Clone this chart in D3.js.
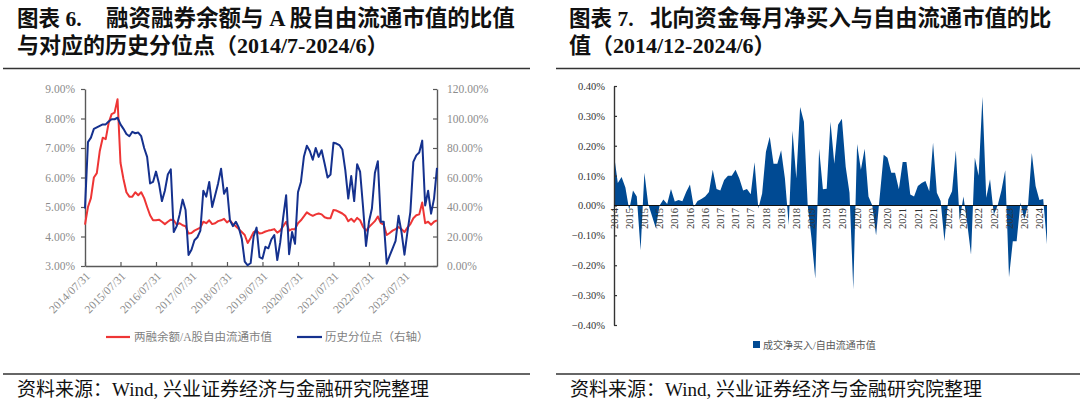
<!DOCTYPE html>
<html><head><meta charset="utf-8">
<script src="https://cdn.jsdelivr.net/npm/d3@7"></script>
<style>
html,body{margin:0;padding:0;background:#fff;}
svg{display:block;}
</style></head><body>
<svg id="c" width="1080" height="402"></svg>
<script>
// ---------- DATA ----------
// Chart 6: margin balance / A-share free float market cap (%), monthly 2014/07 - 2024/06
const marginRatio = [
4.40,5.00,5.30,6.00,6.15,6.90,7.35,7.30,7.85,8.15,8.20,8.65,
6.50,5.95,5.50,5.35,5.35,5.50,5.40,5.50,5.30,5.00,4.72,4.55,
4.55,4.57,4.50,4.42,4.50,4.57,4.55,4.40,4.45,4.38,4.35,4.10,
4.12,4.20,4.25,4.30,4.50,4.45,4.55,4.42,4.45,4.52,4.55,4.60,
4.48,4.55,4.42,4.35,4.25,4.15,4.05,3.78,3.95,4.15,4.20,4.10,
4.12,4.17,4.20,4.22,4.25,4.13,4.20,4.35,4.50,4.20,4.25,4.25,
4.45,4.55,4.68,4.82,4.75,4.70,4.75,4.78,4.75,4.65,4.62,4.62,
4.90,4.88,4.83,4.78,4.70,4.52,4.60,4.50,4.63,4.55,4.33,4.20,
4.32,4.42,4.52,4.68,4.45,4.40,4.05,4.12,4.20,4.25,4.32,4.25,
4.15,4.30,4.42,4.62,4.72,4.75,5.15,4.45,4.50,4.40,4.50,4.55];
// historical percentile (%), right axis
const percentile = [
39,84,87,93,94,95,96,96,98,99.5,99.5,100.5,
96,93,89.5,88,91,90,90.5,88,80,74,56,57,
64,56,44,51,62,65.5,23,27,35,45,38,7.5,
11,17.5,19.5,24,51,47,57,40,48,56,66,49,
53,31,27,30,26,18.5,3,0.5,2,20,26,6,
5,13,12,18,21,4,16,33,48,8,23,15,
50,57,74,81.5,78,72,80,74,78.5,69.5,60,62,
83.5,83,82,79,65,45.7,61,44,69,64,40,13.6,
30,39,63,71,30,30,1.6,7,12,17,34,23,
7.7,23,36.7,70.6,75,77,85,41,51,35.5,45.7,66.5];
const leftTickIdx = [0,12,24,36,48,60,72,84,96,108];
const leftTickLabels = ["2014/07/31","2015/07/31","2016/07/31","2017/07/31","2018/07/31",
  "2019/07/31","2020/07/31","2021/07/31","2022/07/31","2023/07/31"];
const leftYTicks = [3,4,5,6,7,8,9];
const rightYTicks = [0,20,40,60,80,100,120];

// Chart 7: northbound monthly net buy / free float market cap (%), 2014/12 - 2024/06
const northbound = [
0.17,0.075,0.095,0.06,-0.015,0.05,0.03,-0.15,0.11,0.005,-0.035,-0.075,
0.0,0.02,0.005,0.055,0.013,0.018,0.014,0.045,0.07,-0.005,0.015,0.022,
0.03,0.045,0.12,0.055,0.05,0.085,0.1,0.1,0.12,0.09,0.05,0.055,
0.038,0.145,-0.01,0.04,0.18,0.23,0.14,0.14,0.185,0.09,-0.065,0.25,
0.09,0.33,0.28,0.0,-0.11,-0.245,0.19,0.054,0.056,0.28,0.14,0.27,
0.29,0.13,0.043,-0.28,0.206,0.12,0.19,0.03,0.0,-0.1,0.035,0.17,
0.16,0.11,0.11,0.054,0.146,0.146,0.037,0.03,0.065,0.075,0.082,0.048,
0.21,0.043,0.015,-0.12,0.02,0.048,0.184,-0.05,0.03,-0.06,-0.165,0.16,
0.1,0.364,0.026,0.088,-0.03,0.0,0.05,0.118,-0.24,-0.12,-0.12,0.01,
-0.045,0.0,0.176,0.065,0.018,0.022,-0.13];
const northTickLabels = ["2014","2015","2015","2015","2016","2016","2016","2017","2017","2017",
  "2018","2018","2018","2019","2019","2019","2020","2020","2020","2021","2021","2021",
  "2022","2022","2022","2023","2023","2023","2024"];
const northYTicks = [-0.4,-0.3,-0.2,-0.1,0,0.1,0.2,0.3,0.4];

// ---------- DRAW ----------
const svg = d3.select("#c");
const serif = "'Liberation Serif','Times New Roman','Noto Sans CJK SC',serif";
const titleFont = "'Liberation Serif','Noto Sans CJK SC',sans-serif";
const pct2 = d => d3.format(".2f")(d) + "%";

// titles
function title(x, y, txt, size, weight) {
  svg.append("text").attr("x", x).attr("y", y).text(txt)
    .attr("font-family", titleFont).attr("font-size", size)
    .attr("font-weight", weight).attr("fill", "#111");
}
title(17, 26, "图表 6.", 21.5, "bold");
title(106, 26, "融资融券余额与 A 股自由流通市值的比值", 22.5, "bold");
title(17, 53, "与对应的历史分位点（2014/7-2024/6）", 22, "bold");
title(569, 26, "图表 7.", 21.5, "bold");
title(650, 26, "北向资金每月净买入与自由流通市值的比", 22.3, "bold");
title(569, 53, "值（2014/12-2024/6）", 22, "bold");

// separator lines
const rules = [[3,530,68.5],[556,1080,68.5],[3,530,374],[556,1080,374]];
rules.forEach(r => svg.append("line").attr("x1", r[0]).attr("x2", r[1])
  .attr("y1", r[2]).attr("y2", r[2]).attr("stroke", "#333").attr("stroke-width", 1.3));

// footers
title(17, 396, "资料来源：Wind, 兴业证券经济与金融研究院整理", 19, "normal");
title(570, 396, "资料来源：Wind, 兴业证券经济与金融研究院整理", 19, "normal");

// ---- Left chart ----
const xL = d3.scaleLinear().domain([0, marginRatio.length - 1]).range([85, 437]);
const yL = d3.scaleLinear().domain([3, 9]).range([266, 89]);
const yR = d3.scaleLinear().domain([0, 120]).range([266, 89]);
const axisCol = "#595959", labCol = "#8c8c8c";

function styleAxis(g, col, tcol, fs) {
  g.select(".domain").attr("stroke", col).attr("stroke-width", 1.4);
  g.selectAll(".tick line").attr("stroke", col).attr("stroke-width", 1.2);
  g.selectAll(".tick text").attr("fill", tcol).attr("font-family", serif).attr("font-size", fs);
}

const gLA = svg.append("g").attr("transform", "translate(85,0)")
  .call(d3.axisLeft(yL).tickValues(leftYTicks).tickFormat(pct2).tickSizeInner(4).tickSizeOuter(0).tickPadding(6));
styleAxis(gLA, axisCol, labCol, 11.5);
const gRA = svg.append("g").attr("transform", "translate(437,0)")
  .call(d3.axisRight(yR).tickValues(rightYTicks).tickFormat(pct2).tickSizeInner(-4).tickSizeOuter(0).tickPadding(10));
styleAxis(gRA, axisCol, labCol, 11.5);
const gBA = svg.append("g").attr("transform", "translate(0,266)")
  .call(d3.axisBottom(xL).tickValues(leftTickIdx).tickFormat("").tickSizeInner(-4).tickSizeOuter(0));
styleAxis(gBA, axisCol, labCol, 11);

svg.append("g").selectAll("text").data(leftTickIdx).join("text")
  .attr("transform", (d) => `translate(${xL(d) + 3},${274}) rotate(-45)`)
  .attr("text-anchor", "end").attr("dy", "0.35em")
  .attr("font-family", serif).attr("font-size", 11.5).attr("fill", labCol)
  .text((d, i) => leftTickLabels[i]);

const red = "#EE3535", blue = "#15318E";
svg.append("path").datum(marginRatio)
  .attr("d", d3.line().x((d, i) => xL(i)).y(d => yL(d)))
  .attr("fill", "none").attr("stroke", red).attr("stroke-width", 2).attr("stroke-linejoin", "round");
svg.append("path").datum(percentile)
  .attr("d", d3.line().x((d, i) => xL(i)).y(d => yR(d)))
  .attr("fill", "none").attr("stroke", blue).attr("stroke-width", 2).attr("stroke-linejoin", "round");

// left legend
svg.append("line").attr("x1", 106).attr("x2", 130).attr("y1", 337).attr("y2", 337)
  .attr("stroke", red).attr("stroke-width", 2.2);
svg.append("text").attr("x", 134).attr("y", 341).text("两融余额/A股自由流通市值")
  .attr("font-family", titleFont).attr("font-size", 11.5).attr("fill", "#7f7f7f");
svg.append("line").attr("x1", 297).attr("x2", 322).attr("y1", 337).attr("y2", 337)
  .attr("stroke", blue).attr("stroke-width", 2.2);
svg.append("text").attr("x", 325).attr("y", 341).text("历史分位点（右轴）")
  .attr("font-family", titleFont).attr("font-size", 11.5).attr("fill", "#7f7f7f");

// ---- Right chart ----
const xN = d3.scaleLinear().domain([0, northbound.length - 1]).range([614, 1047]);
const yN = d3.scaleLinear().domain([-0.4, 0.4]).range([325, 86]);
const areaCol = "#004A93";

svg.append("path").datum(northbound)
  .attr("d", d3.area().x((d, i) => xN(i)).y0(yN(0)).y1(d => yN(d)))
  .attr("fill", areaCol);

const gNA = svg.append("g").attr("transform", "translate(614,0)")
  .call(d3.axisLeft(yN).tickValues(northYTicks).tickFormat(pct2).tickSizeInner(-3).tickSizeOuter(0).tickPadding(9));
styleAxis(gNA, "#333", "#333", 10.5);

svg.append("line").attr("x1", xN(0)).attr("x2", xN(northbound.length - 1))
  .attr("y1", yN(0)).attr("y2", yN(0)).attr("stroke", "#111").attr("stroke-width", 1.2);

const nIdx = northTickLabels.map((d, i) => i * 4);
svg.append("g").selectAll("text").data(nIdx).join("text")
  .attr("transform", d => `translate(${xN(d)},${208}) rotate(-90)`)
  .attr("text-anchor", "end").attr("dy", "0.35em")
  .attr("font-family", serif).attr("font-size", 10.5).attr("fill", "#333")
  .text((d, i) => northTickLabels[i]);

// right legend
svg.append("rect").attr("x", 753).attr("y", 341).attr("width", 7).attr("height", 7).attr("fill", areaCol);
svg.append("text").attr("x", 763).attr("y", 348.5).text("成交净买入/自由流通市值")
  .attr("font-family", titleFont).attr("font-size", 10).attr("fill", "#595959");
</script>
</body></html>
